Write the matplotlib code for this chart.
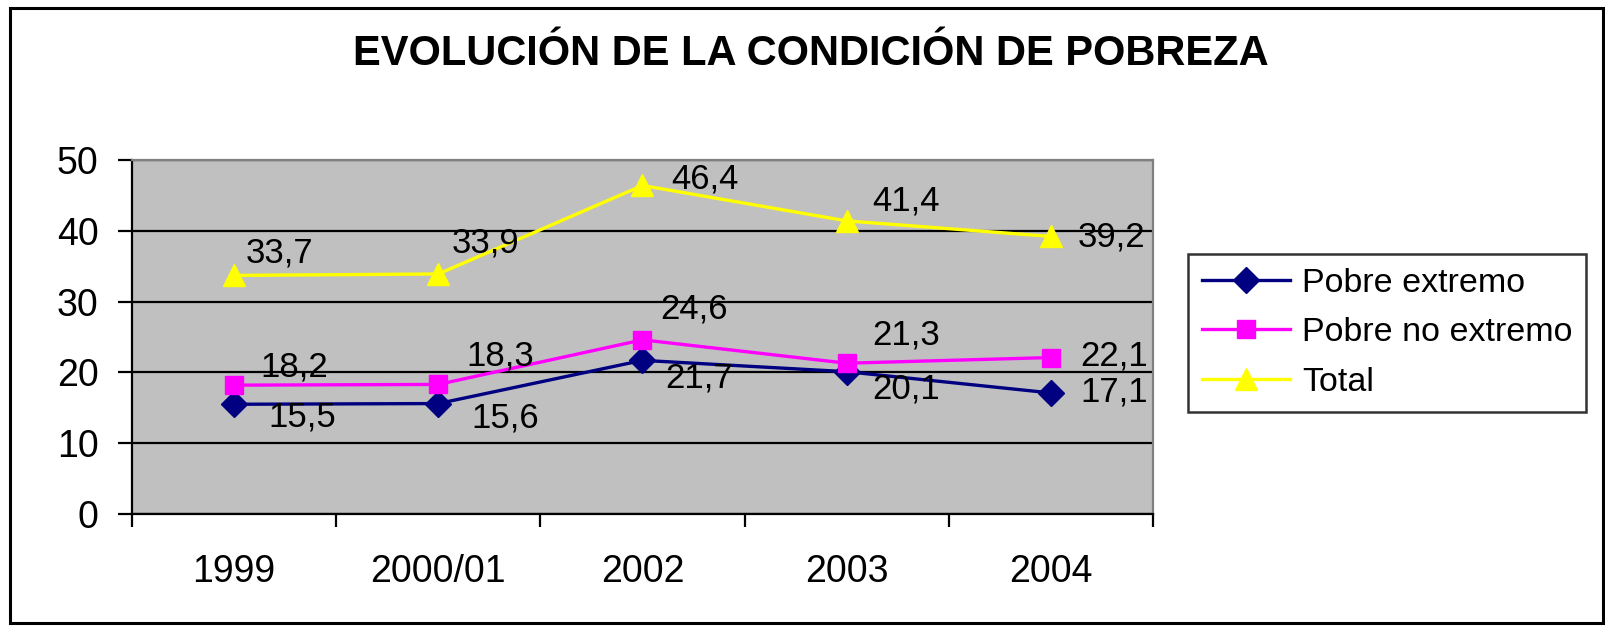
import numpy as np
import matplotlib
matplotlib.use('Agg')
import matplotlib.pyplot as plt
from matplotlib.patches import Rectangle

plt.rcParams['font.family'] = ['Liberation Sans', 'DejaVu Sans']

#-------------------------------------------------------------------------------
# Data
#-------------------------------------------------------------------------------
years           = ['1999', '2000/01', '2002', '2003', '2004']
pobre_extremo   = [15.5, 15.6, 21.7, 20.1, 17.1]
pobre_no_ext    = [18.2, 18.3, 24.6, 21.3, 22.1]
total           = [33.7, 33.9, 46.4, 41.4, 39.2]
series_names    = ['Pobre extremo', 'Pobre no extremo', 'Total']
title           = 'EVOLUCIÓN DE LA CONDICIÓN DE POBREZA'

# label offsets (pixels, +y = up) to mimic the Excel placement
off_ext   = [(34, -13), (33, -14), (23, -18), (26, -17), (29, 1)]
off_noext = [(26, 18), (28, 28), (18, 31), (26, 28), (29, 2)]
off_tot   = [(12, 22), (13, 31), (29, 6), (26, 20), (27, -1)]

#-------------------------------------------------------------------------------
# Figure
#-------------------------------------------------------------------------------
W, H = 1606, 626
fig = plt.figure(figsize=(W / 100, H / 100), dpi=100)
fig.patch.set_facecolor('white')

# outer chart border
fig.patches.append(Rectangle((10 / W, 1 - 623 / H), (1603 - 10) / W, (623 - 8) / H,
                             transform=fig.transFigure, fill=False,
                             edgecolor='black', linewidth=2.2))

fig.text(811 / W, 1 - 54 / H, title, ha='center', va='center',
         fontsize=30, fontweight='bold')

ax = fig.add_axes([132 / W, 1 - 514 / H, (1153 - 132) / W, (514 - 160) / H])
ax.set_facecolor('#C0C0C0')

x = np.arange(len(years))
specs = [
    (pobre_extremo, '#000080', 'D', 13, off_ext),
    (pobre_no_ext,  '#FF00FF', 's', 13, off_noext),
    (total,         '#FFFF00', '^', 16, off_tot),
]
handles = []
for (vals, col, mk, ms, offs), name in zip(specs, series_names):
    line, = ax.plot(x, vals, color=col, lw=2.4, marker=mk, markersize=ms,
                    markeredgecolor=col, label=name, zorder=3)
    handles.append(line)
    for xi, v, (dx, dy) in zip(x, vals, offs):
        ax.annotate(f'{v:.1f}'.replace('.', ','), (xi, v), xytext=(dx, dy),
                    textcoords='offset pixels', ha='left', va='center',
                    fontsize=25, zorder=4)

ax.set_xlim(-0.5, len(years) - 0.5)
ax.set_ylim(0, 50)
ax.set_yticks(np.arange(0, 51, 10))
ax.set_xticks(x)
ax.set_xticklabels(years)
ax.set_xticks(np.arange(-0.5, len(years), 1), minor=True)
ax.tick_params(axis='x', which='major', length=0, pad=29, labelsize=27)
ax.tick_params(axis='x', which='minor', length=9, width=1.6, direction='out')
ax.tick_params(axis='y', length=10, width=1.6, direction='out', pad=14, labelsize=27)

ax.set_axisbelow(True)
ax.yaxis.grid(True, color='black', linewidth=1.6)
for s in ['left', 'bottom']:
    ax.spines[s].set_color('black')
    ax.spines[s].set_linewidth(1.6)
for s in ['top', 'right']:
    ax.spines[s].set_color('#808080')
    ax.spines[s].set_linewidth(1.6)

leg = fig.legend(handles=handles, loc='upper left',
                 bbox_to_anchor=(1188 / W, 1 - 254 / H), fontsize=24.5,
                 frameon=True, fancybox=False, handlelength=2.6,
                 handletextpad=0.35, labelspacing=0.55, borderpad=0.4,
                 borderaxespad=0)
leg.get_frame().set_edgecolor('black')
leg.get_frame().set_linewidth(1.8)

fig.savefig('out.png', dpi=100)
